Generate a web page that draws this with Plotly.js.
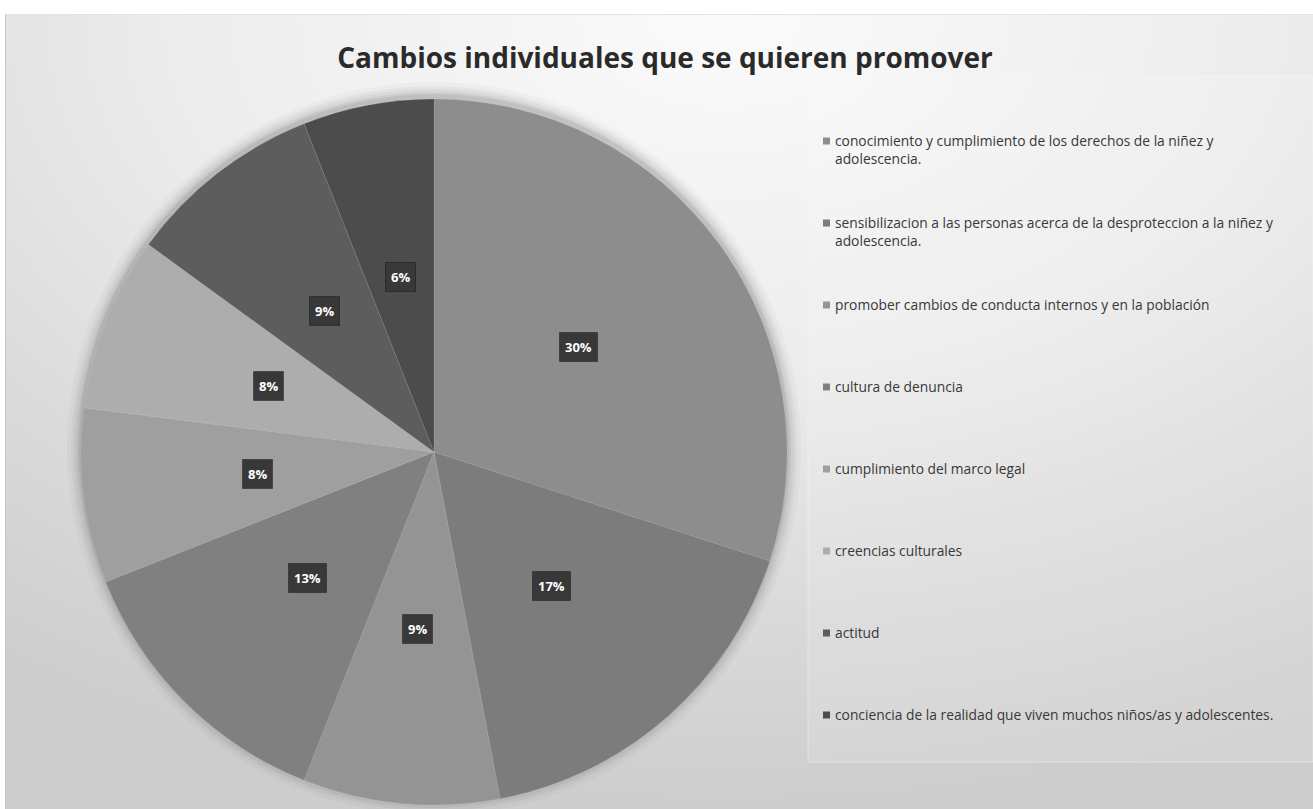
<!DOCTYPE html>
<html>
<head>
<meta charset="utf-8">
<script src="https://cdn.plot.ly/plotly-3.0.1.min.js"></script>
<style>
  html, body { margin: 0; padding: 0; background: #ffffff; }
  #wrap { position: relative; width: 1313px; height: 809px; overflow: hidden; }
  #bg { position: absolute; left: 5px; top: 14px; width: 1308px; height: 795px;
        background: radial-gradient(ellipse 95% 100% at 55% 0%, #fbfbfb 0%, #ececec 45%, #dadada 75%, #cdcdcd 100%);
        border-left: 1px solid #c8c8c8; border-top: 1px solid #e4e4e4; }
  #chart { position: absolute; left: 0; top: 0; width: 1313px; height: 809px; }
</style>
</head>
<body>
<div id="wrap"><div id="bg"></div><div id="chart"></div></div>
<script>
// ---- data ----
const categories = [
  "conocimiento y cumplimiento de los derechos de la niñez y<br>adolescencia.",
  "sensibilizacion a las personas acerca de la desproteccion a la niñez y<br>adolescencia.",
  "promober cambios de conducta internos y en la población",
  "cultura de denuncia",
  "cumplimiento del marco legal",
  "creencias culturales",
  "actitud",
  "conciencia de la realidad que viven muchos niños/as y adolescentes."
];
const values = [30, 17, 9, 13, 8, 8, 9, 6];
const sliceColors = ["#8d8d8d", "#7c7c7c", "#949494", "#808080", "#9f9f9f", "#adadad", "#5d5d5d", "#4c4c4c"];
const chartTitle = "Cambios individuales que se quieren promover";

// ---- layout geometry (pixels) ----
const W = 1313, H = 809;
const cx = 434, cy = 452, R = 353;
const px = x => x / W;
const py = y => 1 - y / H;

const total = values.reduce((a, b) => a + b, 0);

const trace = {
  type: "pie",
  labels: categories.map(c => c.replace("<br>", " ")),
  values: values,
  sort: false,
  direction: "clockwise",
  rotation: 0,
  marker: { colors: sliceColors, line: { color: "rgba(255,255,255,0.15)", width: 0.6 } },
  textinfo: "none",
  hoverinfo: "label+percent",
  showlegend: false,
  domain: { x: [px(cx - R), px(cx + R)], y: [py(cy + R), py(cy - R)] }
};

const annotations = [];
const shapes = [];

// soft shadow around the pie
[14, 10, 7, 4, 2].forEach((d, i) => {
  shapes.push({
    type: "circle", xref: "paper", yref: "paper", layer: "below",
    x0: px(cx - R - d), x1: px(cx + R + d), y0: py(cy + R + d - 4), y1: py(cy - R - d - 3),
    fillcolor: "rgba(0,0,0," + (0.025 + i * 0.01) + ")", line: { width: 0 }
  });
});

// legend panel
shapes.push({
  type: "rect", xref: "paper", yref: "paper", layer: "below",
  x0: px(808), x1: px(1313), y0: py(762), y1: py(76),
  fillcolor: "rgba(255,255,255,0.12)", line: { color: "rgba(255,255,255,0.35)", width: 1 }
});

// percent labels placed on each slice's mid-angle
let cum = 0;
values.forEach((v, i) => {
  const mid = (cum + v / 2) / total * 2 * Math.PI;
  cum += v;
  const r = 0.505 * R;
  const lx = cx + r * Math.sin(mid);
  const ly = cy - r * Math.cos(mid);
  annotations.push({
    xref: "paper", yref: "paper", x: px(lx), y: py(ly),
    xanchor: "center", yanchor: "middle", showarrow: false,
    text: "<b>" + Math.round(v / total * 100) + "%</b>",
    font: { family: "Open Sans, sans-serif", size: 13, color: "#ffffff" },
    bgcolor: "#383838", borderpad: 5,
    bordercolor: "rgba(0,0,0,0.35)", borderwidth: 1
  });
});

// legend entries
categories.forEach((c, i) => {
  const yc = 141 + i * 82.0;
  shapes.push({
    type: "rect", xref: "paper", yref: "paper",
    x0: px(823), x1: px(830), y0: py(yc + 3.5), y1: py(yc - 3.5),
    fillcolor: sliceColors[i], line: { width: 0 }
  });
  annotations.push({
    xref: "paper", yref: "paper", x: px(833), y: py(yc - 12),
    xanchor: "left", yanchor: "top", align: "left", showarrow: false,
    text: c,
    font: { family: "Open Sans, sans-serif", size: 13.8, color: "#383838" }
  });
});

const layout = {
  width: W, height: H,
  margin: { l: 0, r: 0, t: 0, b: 0 },
  paper_bgcolor: "rgba(0,0,0,0)",
  plot_bgcolor: "rgba(0,0,0,0)",
  title: {
    text: "<b>" + chartTitle + "</b>",
    x: px(665), xanchor: "center", y: py(58), yanchor: "middle",
    font: { family: "Open Sans, sans-serif", size: 28, color: "#2a2a2a" }
  },
  showlegend: false,
  annotations: annotations,
  shapes: shapes
};

Plotly.newPlot("chart", [trace], layout, { displayModeBar: false, staticPlot: true });
</script>
</body>
</html>
